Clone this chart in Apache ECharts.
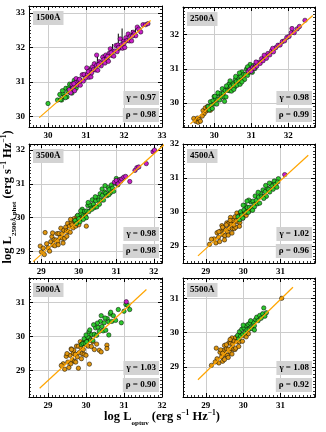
<!DOCTYPE html>
<html>
<head>
<meta charset="utf-8">
<script src="https://cdn.jsdelivr.net/npm/echarts@6/dist/echarts.min.js"></script>
<style>
html,body{margin:0;padding:0;background:#fff;}
#main{width:326px;height:432px;}
</style>
</head>
<body>
<div id="main"></div>
<script>
// panel labels and statistics
const panelNames = ['1500Å', '2500Å', '3500Å', '4500Å', '5000Å', '5500Å'];
const gammaVals = ['0.97', '0.98', '0.98', '1.02', '1.03', '1.08'];
const rhoVals = ['0.98', '0.99', '0.98', '0.96', '0.90', '0.92'];
// axis ranges
const xMin = [29.5, 29.16, 28.67, 28.39, 28.5, 28.39];
const xMax = [33, 32.72, 32.22, 31.92, 32, 31.92];
const yMin = [29.7, 29.3, 28.66, 28.5, 28.22, 28.13];
const yMax = [33.2, 32.81, 32.18, 32, 31.73, 31.59];
// fitted lines (end points)
const fitX = [[29.77, 32.70], [29.36, 32.66], [28.78, 32.3], [28.79, 31.74], [28.78, 31.59], [28.79, 31.33]];
const fitY = [[29.97, 32.78], [29.39, 32.56], [28.7, 32.18], [28.71, 31.67], [28.48, 31.39], [28.63, 31.32]];

// 1500A
const green1500 = [[30.0,30.38],[30.25,30.48],[30.31,30.64],[30.36,30.48],[30.4,30.66],[30.43,30.58],[30.47,30.82],[30.5,30.57],[30.52,30.73],[30.55,30.84],[30.58,30.7],[30.6,30.79],[30.63,30.68],[30.65,30.95],[30.67,30.89],[30.7,30.83],[30.72,30.98],[30.74,30.82],[30.77,30.95],[30.8,31.05],[30.46,30.55],[30.38,30.75],[30.57,30.94],[30.62,30.77],[30.33,30.49],[30.69,31.05]];
const magenta1500 = [[30.56,30.78],[30.6,30.69],[30.63,30.93],[30.66,30.83],[30.7,30.75],[30.73,30.99],[30.74,31.1],[30.78,30.91],[30.81,31.04],[30.85,30.91],[30.86,31.04],[30.9,31.21],[30.93,31.03],[30.95,31.22],[30.99,31.12],[31.02,31.41],[31.04,31.23],[31.08,31.14],[31.1,31.33],[31.13,31.15],[31.17,31.44],[31.2,31.36],[31.22,31.53],[31.26,31.35],[31.28,31.48],[31.28,31.78],[31.31,31.34],[31.35,31.59],[31.38,31.55],[31.4,31.47],[31.44,31.72],[31.47,31.65],[31.5,31.55],[31.52,31.78],[31.55,31.68],[31.59,31.6],[31.61,31.83],[31.64,31.96],[31.68,31.77],[31.7,31.89],[31.73,31.75],[31.76,31.9],[31.79,32.06],[31.82,31.88],[31.84,32.07],[31.88,31.98],[31.9,32.25],[31.93,32.08],[31.96,31.98],[31.99,32.18],[32.02,32.0],[32.05,32.28],[32.08,32.2],[32.11,32.39],[32.14,32.19],[32.17,32.33],[32.2,32.19],[32.24,32.44],[32.27,32.4],[32.31,32.34],[32.35,32.59],[32.39,32.53],[32.44,32.45],[32.5,32.66],[32.57,32.66],[32.63,32.69],[30.68,30.95],[30.83,31.08],[31.06,31.3],[31.15,31.27],[31.33,31.5],[31.57,31.74],[31.66,31.85],[31.86,32.0],[32.0,32.12],[32.22,32.33]];
const errBars1500 = [[31.95,32.2,32.55],[31.85,32.05,32.4],[31.7,31.85,32.1],[31.45,31.55,31.8],[31.3,31.4,31.75],[32.2,32.3,32.5],[31.1,31.2,31.45],[32.3,32.35,32.55]];

// 2500A
const orange2500 = [[29.45,29.55],[29.5,29.47],[29.55,29.56],[29.57,29.44],[29.6,29.52],[29.63,29.47],[29.7,29.78],[29.73,29.69],[29.76,29.86],[29.79,29.77],[29.82,29.9],[29.84,29.8],[29.87,29.86],[29.9,29.79],[29.68,29.62]];
const green2500 = [[29.84,29.9],[29.87,29.8],[29.9,30.04],[29.92,29.93],[29.95,29.84],[29.97,30.07],[30.0,30.19],[30.02,29.98],[30.05,30.12],[30.07,29.97],[30.1,30.11],[30.12,30.26],[30.15,30.09],[30.17,30.28],[30.2,30.18],[30.22,30.42],[30.25,30.29],[30.27,30.18],[30.3,30.37],[30.32,30.18],[30.35,30.46],[30.37,30.37],[30.4,30.56],[30.42,30.36],[30.45,30.5],[30.47,30.35],[30.5,30.58],[30.52,30.53],[30.55,30.46],[30.57,30.69],[30.6,30.63],[30.62,30.52],[30.65,30.75],[30.67,30.65],[30.7,30.55],[30.72,30.78],[30.75,30.91],[30.77,30.7],[30.8,30.84],[30.82,30.69],[30.85,30.84],[30.87,30.99],[30.9,30.81],[30.92,31.0],[30.95,30.9],[30.97,31.13],[31.0,31.0],[31.03,30.9],[31.06,31.1],[31.1,31.01],[30.1,30.3],[30.33,30.5],[30.58,30.78],[30.28,30.05],[30.53,30.4],[30.75,30.62],[30.02,30.2],[30.43,30.65],[30.68,30.88],[30.9,31.06]];
const magenta2500 = [[30.92,30.93],[30.96,30.98],[31.0,30.93],[31.04,31.05],[31.08,31.02],[31.12,31.12],[31.15,31.08],[31.2,31.19],[31.24,31.16],[31.28,31.3],[31.32,31.24],[31.37,31.36],[31.41,31.31],[31.45,31.45],[31.5,31.41],[31.55,31.53],[31.6,31.5],[31.66,31.62],[31.72,31.69],[31.78,31.7],[31.84,31.8],[31.9,31.82],[31.96,31.92],[32.02,31.95],[32.08,32.06],[32.1,32.18],[32.16,32.06],[32.24,32.17],[32.3,32.24],[32.45,32.42],[31.13,31.2],[31.35,31.4],[31.58,31.6]];

// 3500A
const orange3500 = [[29.0,28.99],[29.08,28.91],[29.14,29.23],[29.18,29.11],[29.22,29.01],[29.25,29.29],[29.28,29.44],[29.31,29.19],[29.34,29.35],[29.36,29.17],[29.39,29.34],[29.42,29.53],[29.44,29.3],[29.47,29.53],[29.5,29.41],[29.52,29.69],[29.55,29.53],[29.57,29.39],[29.6,29.63],[29.62,29.39],[29.65,29.72],[29.67,29.61],[29.7,29.83],[29.72,29.59],[29.75,29.75],[29.77,29.57],[29.8,29.85],[29.82,29.79],[29.85,29.7],[29.87,29.97],[29.9,29.89],[29.92,29.75],[29.95,30.04],[29.97,29.9],[30.0,29.79],[30.03,30.07],[30.06,29.99],[30.1,29.98],[30.14,30.15],[28.97,29.16],[29.1,29.56],[30.2,29.75],[29.05,29.1],[29.3,29.55],[29.58,29.25],[29.68,29.45],[29.45,29.2],[29.78,29.95]];
const green3500 = [[29.9,29.92],[29.94,29.83],[29.97,30.07],[30.0,29.97],[30.03,29.88],[30.06,30.12],[30.09,30.25],[30.12,30.05],[30.15,30.19],[30.18,30.05],[30.21,30.2],[30.24,30.36],[30.27,30.18],[30.3,30.38],[30.33,30.28],[30.36,30.53],[30.39,30.4],[30.42,30.3],[30.45,30.5],[30.48,30.32],[30.51,30.6],[30.54,30.52],[30.57,30.71],[30.6,30.52],[30.63,30.66],[30.66,30.52],[30.69,30.76],[30.72,30.72],[30.75,30.65],[30.78,30.89],[30.81,30.83],[30.84,30.73],[30.87,30.97],[30.9,30.87],[30.93,30.78],[30.96,31.02],[31.0,31.16],[31.04,30.97],[31.08,31.12],[30.05,30.2],[30.25,30.45],[30.44,30.62],[30.62,30.85],[30.2,30.0],[30.8,30.68],[30.35,30.25],[30.55,30.4],[30.7,30.95],[30.12,29.95]];
const magenta3500 = [[30.95,31.05],[31.0,31.1],[31.05,31.0],[31.1,31.12],[31.12,31.08],[31.15,31.15],[31.2,31.2],[31.25,31.22],[31.36,31.07],[31.5,31.4],[31.55,31.48],[31.6,31.5],[31.8,31.6],[31.98,31.95],[32.02,32.0]];

// 4500A
const orange4500 = [[29.22,29.21],[29.27,29.09],[29.3,29.39],[29.34,29.26],[29.37,29.13],[29.4,29.44],[29.43,29.6],[29.46,29.33],[29.48,29.49],[29.51,29.3],[29.53,29.48],[29.56,29.68],[29.58,29.42],[29.61,29.67],[29.63,29.52],[29.66,29.84],[29.68,29.65],[29.71,29.51],[29.73,29.75],[29.76,29.51],[29.78,29.86],[29.81,29.74],[29.83,29.97],[29.86,29.71],[29.88,29.88],[29.91,29.69],[29.93,29.98],[29.96,29.92],[29.99,29.82],[30.02,30.02],[30.05,30.04],[30.08,29.9],[30.12,30.04],[30.15,30.02],[29.1,29.05],[29.15,29.2],[29.35,29.42],[29.5,29.18],[29.45,29.55],[29.6,29.32],[29.7,29.38],[29.8,29.55],[29.65,29.75],[29.9,29.58],[29.55,29.62],[29.75,29.62]];
const green4500 = [[29.86,29.86],[29.9,29.77],[29.93,30.01],[29.96,29.91],[29.99,29.82],[30.02,30.06],[30.05,30.19],[30.08,29.99],[30.11,30.13],[30.14,29.99],[30.17,30.14],[30.2,30.3],[30.23,30.12],[30.26,30.32],[30.29,30.22],[30.32,30.47],[30.35,30.34],[30.38,30.24],[30.41,30.44],[30.44,30.26],[30.47,30.54],[30.5,30.46],[30.53,30.65],[30.56,30.46],[30.59,30.6],[30.62,30.46],[30.65,30.7],[30.68,30.66],[30.71,30.59],[30.74,30.83],[30.77,30.77],[30.8,30.67],[30.83,30.91],[30.86,30.81],[30.9,30.73],[30.94,30.98],[30.0,30.2],[30.15,30.35],[30.4,30.58],[30.6,30.78],[30.3,30.15],[30.55,30.4],[30.25,30.05],[30.7,30.85],[30.92,30.88],[30.1,30.32]];
const magenta4500 = [[31.11,31.1]];

// 5000A
const orange5000 = [[29.4,29.2],[29.44,29.04],[29.48,29.42],[29.52,29.25],[29.55,29.09],[29.58,29.45],[29.61,29.64],[29.64,29.31],[29.67,29.51],[29.7,29.27],[29.72,29.48],[29.75,29.72],[29.77,29.4],[29.8,29.72],[29.82,29.53],[29.85,29.85],[29.87,29.67],[29.9,29.5],[29.92,29.79],[29.95,29.48],[29.97,29.9],[30.0,29.76],[30.03,29.86],[30.06,29.72],[30.1,29.95],[30.14,29.71],[30.18,29.85],[30.22,29.62],[30.28,29.78],[30.35,29.6],[30.55,29.75],[30.55,29.65],[30.09,29.19],[29.8,29.07],[30.4,29.55],[29.5,29.5],[29.6,29.2],[29.68,29.6],[29.88,29.35],[30.0,29.45],[29.35,29.15],[29.62,29.62],[29.73,29.25],[29.93,29.62]];
const green5000 = [[29.88,29.77],[29.92,29.8],[29.95,29.94],[29.98,29.81],[30.02,29.85],[30.05,29.99],[30.08,30.14],[30.12,29.9],[30.15,30.06],[30.18,29.89],[30.22,30.07],[30.25,30.26],[30.28,30.04],[30.32,30.28],[30.35,30.16],[30.38,30.45],[30.42,30.3],[30.45,30.17],[30.48,30.41],[30.52,30.19],[30.56,30.53],[30.6,30.44],[30.64,30.67],[30.68,30.45],[30.72,30.62],[30.78,30.48],[30.85,30.8],[30.93,30.41],[31.0,30.75],[31.05,30.95],[31.1,30.92],[31.15,30.8],[30.6,30.05],[30.5,30.55],[30.3,30.4],[30.1,30.2],[30.65,30.72],[30.4,30.62],[30.2,30.35],[30.0,30.05]];
const magenta5000 = [[31.06,31.03]];

// 5500A
const orange5500 = [[29.3,29.24],[29.35,29.12],[29.38,29.43],[29.42,29.3],[29.45,29.17],[29.48,29.48],[29.5,29.63],[29.53,29.36],[29.55,29.53],[29.58,29.34],[29.6,29.52],[29.62,29.71],[29.64,29.45],[29.66,29.69],[29.68,29.54],[29.7,29.85],[29.72,29.67],[29.74,29.52],[29.76,29.76],[29.78,29.51],[29.8,29.86],[29.83,29.74],[29.86,29.9],[29.9,29.74],[29.94,29.93],[29.98,29.75],[30.03,29.92],[30.08,29.88],[30.14,29.97],[29.15,29.05],[29.28,29.55],[29.25,29.15],[29.4,29.5],[29.5,29.22],[29.6,29.28],[29.7,29.38],[29.8,29.55],[29.55,29.65],[29.65,29.8],[29.88,29.6],[29.45,29.4],[31.03,31.0]];
const green5500 = [[29.85,29.92],[29.88,29.82],[29.9,30.03],[29.93,29.9],[29.96,30.1],[29.99,29.95],[30.02,30.14],[30.05,30.0],[30.08,30.2],[30.1,30.08],[30.13,30.24],[30.16,30.1],[30.18,30.28],[30.21,30.16],[30.24,30.12],[30.27,30.3],[30.3,30.2],[30.33,30.38],[30.36,30.45],[30.4,30.35],[30.44,30.5],[30.48,30.42],[30.52,30.55],[30.55,30.72],[30.58,30.48],[30.62,30.58],[30.3,30.08],[30.0,30.22],[30.2,30.35]];

const orangeSets = [[], orange2500, orange3500, orange4500, orange5000, orange5500];
const greenSets = [green1500, green2500, green3500, green4500, green5000, green5500];
const magentaSets = [magenta1500, magenta2500, magenta3500, magenta4500, magenta5000, []];

const font = 'Liberation Serif';
const C_GREEN = '#2ec82e', C_MAG = '#c81ec8', C_ORANGE = '#e0960f', C_LINE = '#ffa500';

const grids = [
  {left: 29, top: 6, width: 133, height: 121},
  {left: 183, top: 7, width: 132, height: 120},
  {left: 29, top: 144, width: 133, height: 119},
  {left: 183, top: 144, width: 132, height: 119},
  {left: 29, top: 278, width: 133, height: 119},
  {left: 183, top: 278, width: 132, height: 119}
];

function axis(i, pos, mn, mx) {
  const main = (pos === 'bottom' || pos === 'left');
  return {
    type: 'value', gridIndex: i, position: pos, min: mn, max: mx, splitNumber: 4,
    axisLine: {show: true, onZero: false, lineStyle: {color: '#000', width: 1}},
    axisTick: {show: true, inside: true, length: 4, lineStyle: {color: '#000', width: 1}},
    minorTick: {show: true, splitNumber: 10, length: 2, lineStyle: {color: '#000', width: 0.8}},
    splitLine: {show: main, lineStyle: {color: '#cccccc', width: 1}},
    axisLabel: {
      show: main, margin: 4, color: '#000', fontFamily: font, fontWeight: 'bold', fontSize: 9,
      formatter: v => Number.isInteger(Math.round(v * 1000) / 1000) ? String(Math.round(v)) : ''
    }
  };
}

const xAxes = [], yAxes = [], series = [], titles = [];
const box = {
  backgroundColor: '#d3d3d3', padding: [2, 3],
  textStyle: {fontFamily: font, fontWeight: 'bold', fontSize: 9, lineHeight: 10, color: '#000'}
};

grids.forEach((g, i) => {
  xAxes.push(axis(i, 'bottom', xMin[i], xMax[i]));
  xAxes.push(axis(i, 'top', xMin[i], xMax[i]));
  yAxes.push(axis(i, 'left', yMin[i], yMax[i]));
  yAxes.push(axis(i, 'right', yMin[i], yMax[i]));
  const ax = {xAxisIndex: 2 * i, yAxisIndex: 2 * i};
  const dot = c => ({type: 'scatter', symbolSize: 4.4, silent: true,
    itemStyle: {color: c, borderColor: '#000', borderWidth: 0.5, opacity: 1}});
  if (i === 0) {
    series.push(Object.assign({
      type: 'custom', data: errBars1500, silent: true,
      encode: {x: 0, y: [1, 2]},
      renderItem: (params, api) => {
        const a = api.coord([api.value(0), api.value(1)]);
        const b = api.coord([api.value(0), api.value(2)]);
        return {type: 'line', shape: {x1: a[0], y1: a[1], x2: b[0], y2: b[1]},
          style: {stroke: '#000', lineWidth: 1}};
      }
    }, ax));
  }
  if (orangeSets[i].length) series.push(Object.assign(dot(C_ORANGE), ax, {data: orangeSets[i]}));
  series.push(Object.assign(dot(C_GREEN), ax, {data: greenSets[i]}));
  if (magentaSets[i].length) series.push(Object.assign(dot(C_MAG), ax, {data: magentaSets[i]}));
  series.push(Object.assign({
    type: 'line', showSymbol: false, silent: true, clip: true,
    data: [[fitX[i][0], fitY[i][0]], [fitX[i][1], fitY[i][1]]],
    lineStyle: {color: C_LINE, width: 1.2}
  }, ax));

  const rightOff = 326 - (g.left + g.width) + 3;
  titles.push(Object.assign({text: panelNames[i], left: g.left + 4, top: g.top + 5}, box));
  titles.push(Object.assign({text: 'γ = ' + gammaVals[i], right: rightOff, top: g.top + g.height - 36}, box));
  titles.push(Object.assign({text: 'ρ = ' + rhoVals[i], right: rightOff, top: g.top + g.height - 19}, box));
});

const rich = {
  b: {fontFamily: font, fontWeight: 'bold', fontSize: 12.5, color: '#000', lineHeight: 16},
  sub: {fontFamily: font, fontWeight: 'bold', fontSize: 7, color: '#000', verticalAlign: 'bottom', lineHeight: 16, padding: [0, 0, -2, 0]},
  sup: {fontFamily: font, fontWeight: 'bold', fontSize: 7.5, color: '#000', verticalAlign: 'top', lineHeight: 16}
};

const myChart = echarts.init(document.getElementById('main'), null, {renderer: 'canvas'});
myChart.setOption({
  animation: false,
  backgroundColor: '#fff',
  title: titles,
  grid: grids,
  xAxis: xAxes,
  yAxis: yAxes,
  series: series,
  graphic: [
    {type: 'text', x: 162, y: 417, silent: true,
      style: {text: '{b|log L}{sub|optuv}{b| (erg s}{sup|−1}{b| Hz}{sup|−1}{b|)}', rich: rich, align: 'center', verticalAlign: 'middle'}},
    {type: 'text', x: 8, y: 197, rotation: Math.PI / 2, silent: true,
      style: {text: '{b|log L}{sub|2500Å,phot}{b| (erg s}{sup|−1}{b| Hz}{sup|−1}{b|)}', rich: rich, align: 'center', verticalAlign: 'middle'}}
  ]
});
</script>
</body>
</html>
